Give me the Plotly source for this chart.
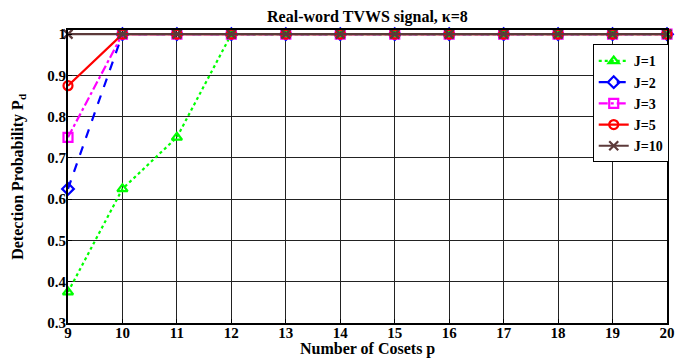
import plotly.graph_objects as go

p = [9, 10, 11, 12, 13, 14, 15, 16, 17, 18, 19, 20]
j1 = [0.375, 0.625, 0.75, 1, 1, 1, 1, 1, 1, 1, 1, 1]
j2 = [0.625, 1, 1, 1, 1, 1, 1, 1, 1, 1, 1, 1]
j3 = [0.75, 1, 1, 1, 1, 1, 1, 1, 1, 1, 1, 1]
j5 = [0.875, 1, 1, 1, 1, 1, 1, 1, 1, 1, 1, 1]
j10 = [1, 1, 1, 1, 1, 1, 1, 1, 1, 1, 1, 1]
yticks = [0.3, 0.4, 0.5, 0.6, 0.7, 0.8, 0.9, 1.0]
ylabels = ["0.3", "0.4", "0.5", "0.6", "0.7", "0.8", "0.9", "1"]

FONT = "Liberation Serif"

series = [
    ("J=1", j1, "#00ff00", "dot", "triangle-up-open"),
    ("J=2", j2, "#0000ff", "dash", "diamond-open"),
    ("J=3", j3, "#ff00ff", "dashdot", "square-open"),
    ("J=5", j5, "#ff0000", "solid", "circle-open"),
    ("J=10", j10, "#5c3a3a", "solid", "x-thin-open"),
]

fig = go.Figure()
for name, ys, col, dash, sym in series:
    fig.add_trace(go.Scatter(
        x=p, y=ys, name=f"<b>{name}</b>", mode="lines+markers",
        line=dict(color=col, width=2.2, dash=dash),
        marker=dict(symbol=sym, size=9, color=col, line=dict(color=col, width=2.2)),
        cliponaxis=False,
    ))

fig.update_layout(
    width=683, height=358,
    margin=dict(l=68, r=16, t=29.5, b=35),
    paper_bgcolor="white", plot_bgcolor="white",
    font=dict(family=FONT, size=14, color="black"),
    title=dict(text="<b>Real-word TVWS signal, κ=8</b>", x=0.538, xanchor="center",
               y=0.955, yanchor="middle", font=dict(size=16, family=FONT)),
    showlegend=True,
    legend=dict(x=0.876, y=0.951, xanchor="left", yanchor="top",
                bgcolor="white", bordercolor="black", borderwidth=1,
                font=dict(size=14, family=FONT), tracegroupgap=0,
                itemwidth=30),
    xaxis=dict(range=[9, 20], tickvals=p, ticktext=[f"<b>{v}</b>" for v in p],
               showgrid=True, gridcolor="#222", gridwidth=1,
               showline=True, linecolor="black", linewidth=2, mirror=True,
               ticks="inside", ticklen=4, tickcolor="black",
               tickfont=dict(size=15, family=FONT), automargin=False,
               ticklabelstandoff=-5,
               zeroline=False),
    yaxis=dict(range=[0.3, 1.01], tickvals=yticks, ticktext=[f"<b>{t}</b>" for t in ylabels],
               showgrid=True, gridcolor="#222", gridwidth=1,
               showline=True, linecolor="black", linewidth=2, mirror=True,
               ticks="inside", ticklen=4, tickcolor="black",
               tickfont=dict(size=15, family=FONT), automargin=False,
               ticklabelstandoff=-3,
               zeroline=False),
    annotations=[
        dict(text="<b>Number of Cosets p</b>", xref="paper", yref="paper",
             x=0.5, y=-0.088, xanchor="center", yanchor="middle", showarrow=False,
             font=dict(size=16, family=FONT)),
        dict(text="<b>Detection Probability P<sub>d</sub></b>", xref="paper", yref="paper",
             x=-0.083, y=0.5, xanchor="center", yanchor="middle", showarrow=False,
             textangle=-90, font=dict(size=16, family=FONT)),
    ],
)

fig.write_html("out.html")
